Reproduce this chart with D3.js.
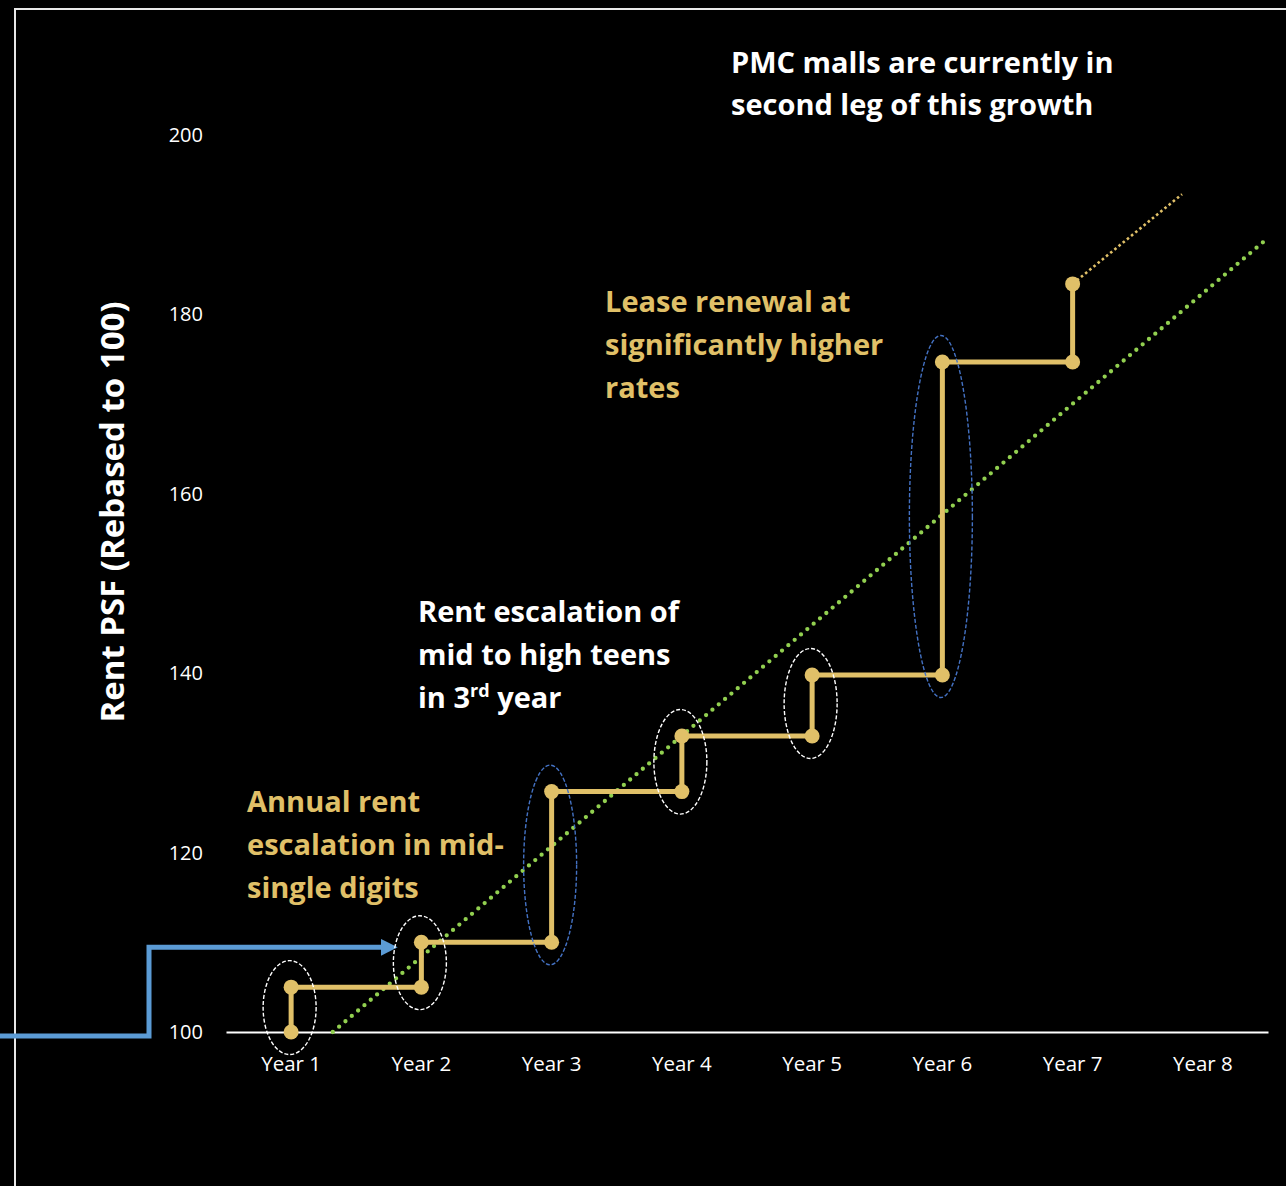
<!DOCTYPE html>
<html>
<head>
<meta charset="utf-8">
<script src="https://cdn.jsdelivr.net/npm/d3@7"></script>
<style>
  html, body { margin: 0; padding: 0; background: #000; }
  svg { display: block; }
  text { font-family: "Open Sans", Lato, sans-serif; }
</style>
</head>
<body>
<div id="chart"></div>
<script>
// ---------- DATA ----------
const years = ["Year 1", "Year 2", "Year 3", "Year 4", "Year 5", "Year 6", "Year 7", "Year 8"];
const yTicks = [100, 120, 140, 160, 180, 200];
// rent at start of each year and after the in-year escalation
const rentStart = [100, 105, 110, 126.8, 133, 139.8, 174.7];
const rentEnd   = [105, 110, 126.8, 133, 139.8, 174.7, 183.4];
// highlighted escalations (year index, kind)
const highlightYears = [0, 1, 2, 3, 4, 5];
const highlightKind  = ["minor", "minor", "major", "minor", "minor", "major"];
// trend line (fractional year index, value)
const trendLine = [[0.32, 100], [7.49, 188.4]];
// projected continuation (fractional year index, value)
const projection = [[6, 183.4], [6.84, 193.4]];

const yTitle = "Rent PSF (Rebased to 100)";

// ---------- SETUP ----------
const W = 1286, H = 1186;
const svg = d3.select("#chart").append("svg").attr("width", W).attr("height", H);
svg.append("rect").attr("width", W).attr("height", H).attr("fill", "#000");

const gold = "#E0C068";
const green = "#92D050";
const blueArrow = "#5B9BD5";
const blueEll = "#4472C4";
const FONT = "'Open Sans', Lato, sans-serif";

// frame
svg.append("rect").attr("x", 15).attr("y", 9).attr("width", W + 20).attr("height", H + 20)
  .attr("fill", "none").attr("stroke", "#e8e8e8").attr("stroke-width", 2);

const x = d3.scaleBand().domain(years).range([226, 1268]).padding(0);
const y = d3.scaleLinear().domain([100, 200]).range([1032, 135]);
const xc = i => x(years[0]) + x.bandwidth() / 2 + i * x.step();

// x axis
const xAxis = svg.append("g").attr("transform", `translate(0,${y(100)})`)
  .call(d3.axisBottom(x).tickSize(0).tickPadding(24));
xAxis.select(".domain").attr("stroke", "#fff").attr("stroke-width", 2);
xAxis.selectAll("text").attr("fill", "#fff").attr("font-size", 20.5)
  .style("font-family", FONT);

// y axis (labels only)
const yAxis = svg.append("g").attr("transform", `translate(203,0)`)
  .call(d3.axisLeft(y).tickValues(yTicks).tickSize(0).tickPadding(0));
yAxis.select(".domain").remove();
yAxis.selectAll("text").attr("fill", "#fff").attr("font-size", 20)
  .style("font-family", FONT);

// y title
svg.append("text")
  .attr("transform", `translate(111,512) rotate(-90)`)
  .attr("text-anchor", "middle").attr("dominant-baseline", "central")
  .attr("fill", "#fff").attr("font-size", 33).attr("font-weight", 700)
  .text(yTitle);

// blue arrow (annotation pointing at Year 2)
const defs = svg.append("defs");
defs.append("marker").attr("id", "arr").attr("viewBox", "0 0 10 10")
  .attr("refX", 1).attr("refY", 5).attr("markerWidth", 3.4).attr("markerHeight", 3.4)
  .attr("markerUnits", "strokeWidth").attr("orient", "auto")
  .append("path").attr("d", "M0,0 L10,5 L0,10 Z").attr("fill", blueArrow);
const arrY0 = y(100) + 4, arrY1 = y(rentEnd[1]) + 5, arrX0 = 149, arrTip = xc(1) - 23 - 16;
svg.append("path")
  .attr("d", `M0,${arrY0} H${arrX0} V${arrY1} H${arrTip}`)
  .attr("fill", "none").attr("stroke", blueArrow).attr("stroke-width", 5)
  .attr("marker-end", "url(#arr)");

// trend line
svg.append("line")
  .attr("x1", xc(trendLine[0][0])).attr("y1", y(trendLine[0][1]))
  .attr("x2", xc(trendLine[1][0])).attr("y2", y(trendLine[1][1]))
  .attr("stroke", green).attr("stroke-width", 4.3).attr("stroke-linecap", "round")
  .attr("stroke-dasharray", "0 8.3");

// projection
svg.append("line")
  .attr("x1", xc(projection[0][0])).attr("y1", y(projection[0][1]))
  .attr("x2", xc(projection[1][0])).attr("y2", y(projection[1][1]))
  .attr("stroke", gold).attr("stroke-width", 2.6)
  .attr("stroke-dasharray", "2.6 2.8");

// step line
let d = "";
rentStart.forEach((v, i) => {
  d += (i === 0 ? "M" : "L") + xc(i) + "," + y(v) + "L" + xc(i) + "," + y(rentEnd[i]);
});
svg.append("path").attr("d", d).attr("fill", "none").attr("stroke", gold)
  .attr("stroke-width", 5).attr("stroke-linejoin", "miter");

// points
const pts = [];
rentStart.forEach((v, i) => { pts.push([i, v]); pts.push([i, rentEnd[i]]); });
svg.append("g").selectAll("circle").data(pts).join("circle")
  .attr("cx", p => xc(p[0])).attr("cy", p => y(p[1])).attr("r", 7.5).attr("fill", gold);

// ellipses
svg.append("g").selectAll("ellipse").data(highlightYears).join("ellipse")
  .attr("cx", (i) => xc(i) - 1.5)
  .attr("cy", (i) => (y(rentStart[i]) + y(rentEnd[i])) / 2 - 2)
  .attr("ry", (i) => Math.abs(y(rentStart[i]) - y(rentEnd[i])) / 2 + 24.5)
  .attr("rx", (i) => Math.abs(y(rentStart[i]) - y(rentEnd[i])) > 250 ? 31.5 : 26.5)
  .attr("fill", "none")
  .attr("stroke", (i, k) => highlightKind[k] === "major" ? blueEll : "#fff")
  .attr("stroke-width", 1.4)
  .attr("stroke-dasharray", "4 2");

// annotations
function block(lines, x0, baselines, color) {
  const t = svg.append("text").attr("fill", color).attr("font-size", 29).attr("font-weight", 700);
  lines.forEach((l, i) => {
    const ts = t.append("tspan").attr("x", x0).attr("y", baselines[i]);
    if (Array.isArray(l)) {
      l.forEach(part => {
        const s = ts.append("tspan").text(part.t);
        if (part.sup) s.attr("font-size", 18).attr("dy", -11);
        if (part.after) s.attr("dy", 11);
      });
    } else ts.text(l);
  });
}
block(["PMC malls are currently in", "second leg of this growth"], 731, [73, 115], "#fff");
block(["Lease renewal at", "significantly higher", "rates"], 605, [312, 355, 398], gold);
block(["Rent escalation of", "mid to high teens",
  [{t: "in 3"}, {t: "rd", sup: true}, {t: " year", after: true}]], 418, [622, 665, 708], "#fff");
block(["Annual rent", "escalation in mid-", "single digits"], 247, [812, 855, 898], gold);
</script>
</body>
</html>
